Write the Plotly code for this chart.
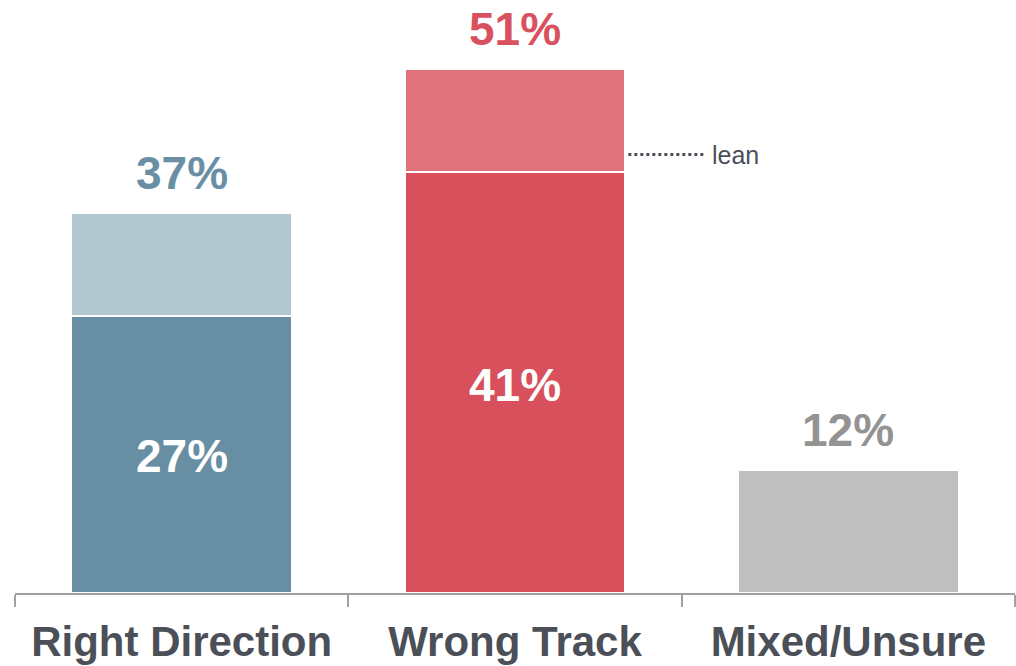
import plotly.graph_objects as go

categories = ["Right Direction", "Wrong Track", "Mixed/Unsure"]
strong_values = [27, 41, 12]
lean_values = [10, 10, 0]
total_labels = ["37%", "51%", "12%"]
inner_labels = ["27%", "41%", ""]

strong_colors = ["#678ea3", "#d8505c", "#bfbfbf"]
lean_colors = ["#b3c7d0", "#df727c", "#bfbfbf"]
total_label_colors = ["#6a8fa5", "#d9515e", "#939393"]

FONT = "Liberation Sans, Arial, sans-serif"

fig = go.Figure()
fig.add_trace(go.Bar(
    x=categories, y=strong_values,
    marker=dict(color=strong_colors, line=dict(color="white", width=1.5)),
    width=0.66, hoverinfo="skip", showlegend=False,
))
fig.add_trace(go.Bar(
    x=categories, y=lean_values,
    marker=dict(color=lean_colors, line=dict(color="white", width=1.5)),
    width=0.66, hoverinfo="skip", showlegend=False,
))

totals = [s + l for s, l in zip(strong_values, lean_values)]
for cat, tot, lab, col in zip(categories, totals, total_labels, total_label_colors):
    fig.add_annotation(x=cat, y=tot, text=f"<b>{lab}</b>", showarrow=False,
                       yanchor="middle", yshift=40,
                       font=dict(family=FONT, size=46, color=col))
for cat, s, lab in zip(categories, strong_values, inner_labels):
    if lab:
        fig.add_annotation(x=cat, y=s / 2, text=f"<b>{lab}</b>", showarrow=False,
                           yanchor="middle", yshift=-2,
                           font=dict(family=FONT, size=46, color="white"))

# lean callout
lean_y = strong_values[1] + 1.7
fig.add_shape(type="line", xref="x", yref="y", x0=1.34, x1=1.57, y0=lean_y, y1=lean_y,
              line=dict(color="#4b4f58", width=3, dash="dot"))
fig.add_annotation(x=1.585, y=lean_y, text="lean", showarrow=False, xanchor="left",
                   yanchor="middle", font=dict(family=FONT, size=25, color="#4b4f58"))

fig.update_layout(
    width=1016, height=666,
    margin=dict(l=15, r=1, t=0, b=73, autoexpand=False),
    barmode="stack", bargap=0.34,
    plot_bgcolor="white", paper_bgcolor="white",
    font=dict(family=FONT),
)
fig.update_xaxes(
    range=[-0.5, 2.5], showline=True, linecolor="#a0a0a0", linewidth=1.5,
    ticks="outside", tickson="boundaries", ticklen=12, tickcolor="#a0a0a0", tickwidth=1.5,
    tickfont=dict(family=FONT, size=42, color="#4b4f58"),
    tickprefix="<b>", ticksuffix="</b>", showgrid=False, automargin=False,
    ticklabelstandoff=11,
)
fig.update_yaxes(range=[0, 57.75], visible=False, showgrid=False, automargin=False)

fig.write_html("out.html", config={"displayModeBar": False},
               post_script="document.body.style.margin='0';document.body.style.overflow='hidden';")
